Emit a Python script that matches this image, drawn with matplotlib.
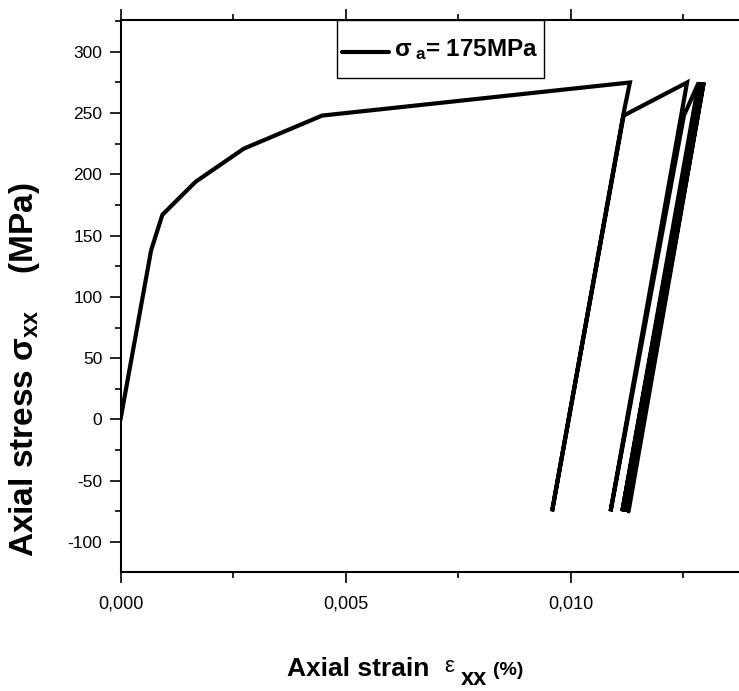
import matplotlib
matplotlib.use("Agg")
import numpy as np
import matplotlib.pyplot as plt
from matplotlib.ticker import MultipleLocator, FuncFormatter
from matplotlib.legend_handler import HandlerLine2D
from matplotlib.lines import Line2D

plt.rcParams['font.family'] = ['Liberation Sans', 'DejaVu Sans']
plt.rcParams['mathtext.fontset'] = 'custom'
plt.rcParams['mathtext.rm'] = 'Liberation Sans:bold'
plt.rcParams['mathtext.bf'] = 'Liberation Sans:bold'
plt.rcParams['mathtext.it'] = 'Liberation Sans:bold'
plt.rcParams['mathtext.default'] = 'bf'

# Data: cyclic stress-strain path (strain, stress in MPa)
strain = [0.0, 0.00068, 0.00093, 0.00167, 0.00274, 0.00448, 0.01132,
          0.01118, 0.00959,
          0.01118, 0.01259,
          0.01089,
          0.01252, 0.01285,
          0.01115,
          0.01288,
          0.01119,
          0.01291,
          0.01122,
          0.01294,
          0.01126,
          0.01296,
          0.01129]
stress = [0, 138, 167, 194, 221, 248, 275,
          250, -75,
          248, 275,
          -75,
          248, 275,
          -75,
          275,
          -75,
          275,
          -75,
          275,
          -75,
          275,
          -75]

legend_label = r'$\sigma_{\;a}$= 175MPa'
xlabel_main = 'Axial strain'
ylabel_text = r'Axial stress $\sigma_{xx}$    (MPa)'


class LoweredLine(HandlerLine2D):
    """Legend line drawn a little below the centre of its (tall) handle box."""
    def __init__(self, shift, **kw):
        super().__init__(**kw)
        self.shift = shift

    def create_artists(self, legend, orig_handle, xdescent, ydescent, width, height,
                       fontsize, trans):
        arts = super().create_artists(legend, orig_handle, xdescent, ydescent, width,
                                      height, fontsize, trans)
        for a in arts:
            if isinstance(a, Line2D):
                a.set_ydata(np.asarray(a.get_ydata()) - self.shift)
        return arts


W, H = 739, 691
fig = plt.figure(figsize=(W / 100, H / 100), dpi=100)
left_px, right_px, top_px, bot_px = 120.5, 739, 20, 572
ax = fig.add_axes([left_px / W, 1 - bot_px / H, (right_px - left_px) / W, (bot_px - top_px) / H])

line, = ax.plot(strain, stress, color='black', lw=3.0, solid_joinstyle='miter',
                solid_capstyle='round', label=legend_label)

ax.set_xlim(0, (right_px - left_px) * 0.005 / 225)
ax.set_ylim(-124.5, 326)

ax.xaxis.set_major_locator(MultipleLocator(0.005))
ax.xaxis.set_minor_locator(MultipleLocator(0.0025))
ax.yaxis.set_major_locator(MultipleLocator(50))
ax.yaxis.set_minor_locator(MultipleLocator(25))
ax.xaxis.set_major_formatter(FuncFormatter(lambda v, p: f"{v:.3f}".replace('.', ',')))
ax.yaxis.set_major_formatter(FuncFormatter(lambda v, p: f"{v:.0f}"))

ax.tick_params(which='both', direction='out', top=True, right=False, labeltop=False,
               width=1.2, colors='black')
ax.tick_params(which='major', length=8)
ax.tick_params(which='minor', length=4)
ax.tick_params(axis='x', which='major', labelsize=13, pad=9)
ax.tick_params(axis='y', which='major', labelsize=12.5, pad=5)
for s in ['left', 'bottom', 'top']:
    ax.spines[s].set_linewidth(1.5)
ax.spines['right'].set_visible(False)

leg = ax.legend(handles=[line], loc='upper left',
                bbox_to_anchor=(337 / W, 1 - 20 / H), bbox_transform=fig.transFigure,
                borderaxespad=0, frameon=True, fancybox=False, edgecolor='black',
                handlelength=1.95, handletextpad=0.2, borderpad=0.2, handleheight=2.7,
                handler_map={Line2D: LoweredLine(shift=8.5)},
                prop={'family': 'Liberation Sans', 'weight': 'bold', 'size': 17.5})
leg.get_frame().set_linewidth(1.0)
leg.get_frame().set_alpha(1)

# axis titles
fig.text(25 / W, 1 - 370 / H, ylabel_text, rotation=90, ha='center', va='center',
         fontsize=24, fontweight='bold', family='Liberation Sans')
fig.text(287 / W, 1 - 676 / H, xlabel_main, ha='left', va='baseline',
         fontsize=19, fontweight='bold', family='Liberation Sans')
fig.text(444 / W, 1 - 672 / H, 'ε', ha='left', va='baseline',
         fontsize=16, family='Liberation Sans')
fig.text(461 / W, 1 - 685 / H, 'xx', ha='left', va='baseline',
         fontsize=17, fontweight='bold', family='Liberation Sans')
fig.text(493 / W, 1 - 675 / H, '(%)', ha='left', va='baseline',
         fontsize=14, fontweight='bold', family='Liberation Sans')

fig.savefig('out.png', dpi=100)
